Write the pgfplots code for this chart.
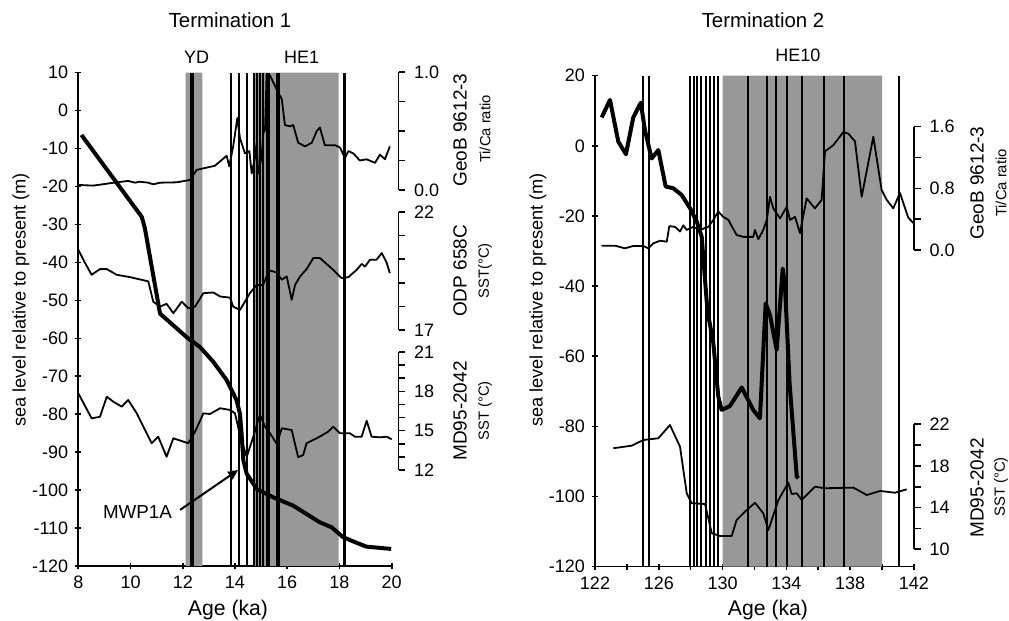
\documentclass[border=0pt]{standalone}
\usepackage{fontspec}
\setmainfont{Liberation Sans}
\usepackage{pgfplots}
\pgfplotsset{compat=1.18}
\usetikzlibrary{arrows.meta}
\definecolor{bandgray}{RGB}{152,152,152}

\pgfplotsset{
  base/.style={scale only axis, anchor=south west, clip=false,
    /pgf/number format/assume math mode=true,
    tick label style={font=\fontsize{9}{10}\selectfont},
    axis line style={line width=0.8pt,-},
    tick style={line width=0.8pt,black},
  },
  sec/.style={base, axis x line=none, axis y line*=right, tick align=outside,
    major tick length=3.3pt, yticklabel style={xshift=1pt}},
  thin/.style={black, line width=0.9pt, line join=round},
  thick/.style={black, line width=2pt, line join=round},
  vline/.style={black, line width=1.1pt},
  band/.style={fill=bandgray, draw=none},
}

\begin{document}
\begin{tikzpicture}
\path[use as bounding box] (0,0) rectangle (504.5pt,310.5pt);

% ================= LEFT PANEL: Termination 1 =================
\begin{axis}[base, at={(39.15pt,27.5pt)}, width=156.7pt, height=246.65pt,
  xmin=8, xmax=20, ymin=-120, ymax=10,
  axis x line*=bottom, axis y line*=left, tick align=center, major tick length=3pt,
  xtick={8,10,...,20}, ytick={-120,-110,...,10}]
  \addplot[band] coordinates {(12.11,-120) (12.75,-120) (12.75,10) (12.11,10)} \closedcycle;
  \addplot[band] coordinates {(14.70,-120) (17.97,-120) (17.97,10) (14.70,10)} \closedcycle;
  \pgfplotsinvokeforeach{12.31,12.39,13.86,14.16,14.45,14.73,14.85,14.96,15.08,15.21,15.31,15.60,15.67,18.19}{
    \addplot[vline] coordinates {(#1,-120) (#1,10)};
  }
  % sea level
  \addplot[thick] coordinates {
    (8.12,-6.4) (10.43,-28) (10.55,-31) (11.13,-53.5) (11.64,-56.6) (12.15,-59.7)
    (12.66,-62.3) (13.17,-66.2) (13.68,-71) (14.06,-76.3) (14.19,-79.9) (14.25,-85)
    (14.32,-92.2) (14.45,-95.7) (14.83,-99.7) (15.46,-101.9) (16.23,-104.1)
    (16.74,-106.3) (17.25,-108.5) (17.70,-109.8) (18.14,-112.4) (18.52,-113.5)
    (19.03,-114.9) (19.98,-115.5)};
  % MWP1A arrow
  \addplot[black, line width=1pt, -{Triangle[length=5pt,width=4.5pt]}] coordinates {(11.9,-105.2) (14.12,-94.7)};
\end{axis}

% GeoB 9612-3 (left)
\begin{axis}[sec, at={(39.15pt,215.5pt)}, width=160.1pt, height=59pt,
  xmin=8, xmax=20.26, ymin=0, ymax=1,
  ytick={0,0.25,0.5,0.75,1}, yticklabels={0.0,,,,1.0}]
  \addplot[thin] coordinates {
    (8.0,0.043) (8.57,0.037) (9.21,0.057) (9.91,0.077) (10.17,0.062) (10.36,0.070)
    (10.68,0.062) (10.87,0.048) (11.13,0.062) (11.77,0.065) (12.28,0.085) (12.53,0.17)
    (12.92,0.19) (13.23,0.205) (13.68,0.29) (13.78,0.20) (13.93,0.37) (14.09,0.61)
    (14.19,0.44) (14.38,0.31) (14.55,0.33) (14.64,0.14) (14.77,0.28) (14.83,0.40)
    (14.89,0.14) (15.02,0.28) (15.08,0.48) (15.15,0.51) (15.21,0.98) (15.34,0.97)
    (15.60,0.85) (15.79,0.77) (15.91,0.55) (16.10,0.54) (16.23,0.55) (16.42,0.40)
    (16.68,0.37) (16.94,0.40) (17.13,0.50) (17.25,0.53) (17.44,0.38) (17.83,0.38)
    (18.02,0.36) (18.21,0.27) (18.34,0.33) (18.53,0.31) (18.78,0.25) (19.04,0.26)
    (19.36,0.23) (19.55,0.30) (19.74,0.26) (19.93,0.37)};
\end{axis}

% ODP 658C (left)
\begin{axis}[sec, at={(39.15pt,145.5pt)}, width=160.1pt, height=59pt,
  xmin=8, xmax=20.26, ymin=17, ymax=22,
  ytick={17,...,22}, yticklabels={17,,,,,22}]
  \addplot[thin] coordinates {
    (8.0,20.40) (8.26,19.84) (8.51,19.34) (8.83,19.58) (9.09,19.58) (9.47,19.34)
    (9.98,19.24) (10.68,19.06) (10.87,18.20) (11.13,17.99) (11.38,18.11) (11.64,17.71)
    (11.96,18.20) (12.21,17.92) (12.47,17.99) (12.79,18.56) (13.17,18.59) (13.43,18.42)
    (13.81,18.37) (13.93,17.99) (14.19,17.85) (14.38,18.20) (14.57,18.56) (14.83,18.91)
    (15.08,18.91) (15.21,19.27) (15.34,19.52) (15.60,19.44) (15.79,19.13) (15.98,19.27)
    (16.17,18.28) (16.30,18.91) (16.49,19.27) (16.74,19.58) (17.00,20.05) (17.25,20.05)
    (17.76,19.55) (18.08,19.20) (18.34,19.24) (18.66,19.55) (18.85,19.80) (18.98,19.69)
    (19.17,19.98) (19.42,19.98) (19.62,20.26) (19.81,19.84) (19.93,19.41)};
\end{axis}

% MD95-2042 (left)
\begin{axis}[sec, at={(39.15pt,75.5pt)}, width=160.1pt, height=59pt,
  xmin=8, xmax=20.26, ymin=12, ymax=21,
  ytick={12,...,21}, yticklabels={12,,,15,,,18,,,21}]
  \addplot[thin] coordinates {
    (8.0,17.85) (8.51,15.94) (8.83,16.06) (9.09,17.59) (9.34,17.21) (9.66,16.83)
    (9.91,17.34) (10.24,16.32) (10.81,14.04) (11.06,14.54) (11.38,13.01) (11.64,14.42)
    (12.21,14.04) (12.47,14.92) (12.79,16.32) (13.04,16.27) (13.43,16.71) (13.81,16.58)
    (14.00,16.32) (14.13,15.18) (14.26,14.16) (14.45,13.01) (14.70,14.54) (14.89,15.81)
    (14.96,16.19) (15.15,15.30) (15.34,14.80) (15.60,13.98) (15.79,15.18) (16.17,15.05)
    (16.42,12.97) (16.61,13.14) (16.74,14.04) (17.13,14.42) (17.57,14.92) (17.76,15.30)
    (18.02,14.80) (18.40,14.80) (18.59,14.54) (18.85,14.54) (19.04,15.76) (19.23,14.54)
    (19.55,14.49) (19.81,14.54) (20.00,14.34)};
\end{axis}

% ================= RIGHT PANEL: Termination 2 =================
\begin{axis}[base, at={(297.5pt,27.15pt)}, width=159.5pt, height=245.5pt,
  xmin=122, xmax=142, ymin=-120, ymax=20,
  axis x line*=bottom, axis y line*=left, tick align=center, major tick length=3pt,
  xtick={122,124,...,142}, xticklabels={122,,126,,130,,134,,138,,142},
  ytick={-120,-100,...,20}]
  \addplot[band] coordinates {(130,-120) (140,-120) (140,20) (130,20)} \closedcycle;
  \pgfplotsinvokeforeach{125.03,125.41,127.96,128.19,128.41,128.67,128.94,129.21,129.48,129.73,131.57,132.76,133.35,134.02,134.96,136.36,137.63,141.06}{
    \addplot[vline] coordinates {(#1,-120) (#1,20)};
  }
  % sea level
  \addplot[thick] coordinates {
    (122.42,8.1) (122.94,13.1) (123.46,1.2) (123.94,-2.4) (124.40,8.1) (124.87,12.3)
    (125.13,4.5) (125.55,-3.6) (125.97,-1.2) (126.43,-11.6) (126.91,-12.1) (127.43,-14)
    (127.96,-17.8) (128.38,-21.6) (128.69,-25.9) (129.05,-47) (129.42,-56.3)
    (129.73,-71.5) (129.94,-75.3) (130.46,-74.2) (131.2,-68.9) (131.92,-75.3)
    (132.34,-77.7) (132.70,-44.9) (132.97,-48.2) (133.39,-58.2) (133.77,-35)
    (133.91,-39.7) (134.2,-67.7) (134.65,-94.3) (134.75,-94.8)};
\end{axis}

% GeoB 9612-3 (right)
\begin{axis}[sec, at={(297.5pt,185.5pt)}, width=159.5pt, height=61.65pt,
  xmin=122, xmax=142, ymin=0, ymax=1.6,
  ytick={0,0.4,0.8,1.2,1.6}, yticklabels={0.0,,0.8,,1.6}]
  \addplot[thin] coordinates {
    (122.42,0.056) (123.25,0.056) (123.88,0.022) (124.40,0.052) (125.03,0.052)
    (125.34,0.022) (125.66,0.087) (126.08,0.12) (126.5,0.108) (126.66,0.31)
    (127.02,0.30) (127.33,0.24) (127.54,0.32) (127.75,0.26) (128.16,0.30) (128.58,0.26)
    (129.1,0.30) (129.42,0.39) (129.73,0.50) (130.04,0.43) (130.36,0.39) (130.88,0.195)
    (131.3,0.17) (131.92,0.17) (132.03,0.26) (132.24,0.14) (132.55,0.26) (132.77,0.39)
    (132.97,0.69) (133.18,0.54) (133.6,0.41) (134.02,0.56) (134.23,0.39) (134.54,0.43)
    (134.85,0.22) (135.27,0.67) (135.79,0.54) (136.21,0.65) (136.42,1.28) (136.94,1.36)
    (137.57,1.53) (137.88,1.51) (138.30,1.41) (138.72,0.69) (139.45,1.47) (139.97,0.78)
    (140.29,0.65) (140.7,0.54) (141.12,0.74) (141.64,0.42) (141.96,0.35)};
\end{axis}

% MD95-2042 (right)
\begin{axis}[sec, at={(297.5pt,35.85pt)}, width=159.5pt, height=62.5pt,
  xmin=122, xmax=142, ymin=10, ymax=22,
  ytick={10,12,...,22}, yticklabels={10,,14,,18,,22}]
  \addplot[thin] coordinates {
    (123.15,19.70) (124.3,19.95) (125.03,20.49) (125.97,20.66) (126.7,21.93)
    (127.33,19.85) (127.75,15.38) (128.06,14.42) (128.9,14.35) (129.32,11.54)
    (129.84,11.28) (130.57,11.28) (130.88,12.81) (131.4,13.61) (132.03,14.47)
    (132.55,13.46) (132.87,11.85) (133.08,12.81) (133.5,14.73) (134.12,16.4)
    (134.33,15.3) (134.65,15.38) (134.96,14.73) (135.79,16.01) (136.42,15.86)
    (138.2,15.92) (139.04,15.21) (139.87,15.6) (140.81,15.43) (141.54,15.76)};
\end{axis}

% ================= TEXT =================
\node[font=\fontsize{10.2}{12}\selectfont] at (115pt,300.5pt) {Termination 1};
\node[font=\fontsize{10.2}{12}\selectfont] at (381.5pt,300.5pt) {Termination 2};
\node[font=\fontsize{9}{10}\selectfont] at (98.35pt,282pt) {YD};
\node[font=\fontsize{9}{10}\selectfont] at (150.85pt,282pt) {HE1};
\node[font=\fontsize{9}{10}\selectfont] at (399pt,283pt) {HE10};
\node[font=\fontsize{10.6}{12}\selectfont] at (114pt,5.5pt) {Age (ka)};
\node[font=\fontsize{10.6}{12}\selectfont] at (384pt,5.5pt) {Age (ka)};
\node[rotate=90,font=\fontsize{9.1}{10}\selectfont] at (10.5pt,160.5pt) {sea level relative to present (m)};
\node[rotate=90,font=\fontsize{9.1}{10}\selectfont] at (269pt,160.5pt) {sea level relative to present (m)};
\node[font=\fontsize{9.4}{10}\selectfont] at (68.75pt,54.65pt) {MWP1A};
% left side labels
\node[rotate=90,font=\fontsize{9.5}{10}\selectfont] at (230pt,245.5pt) {GeoB 9612-3};
\node[rotate=90,font=\fontsize{7.4}{8}\selectfont] at (242.5pt,246pt) {Ti/Ca ratio};
\node[rotate=90,font=\fontsize{9.5}{10}\selectfont] at (230pt,175pt) {ODP 658C};
\node[rotate=90,font=\fontsize{7.4}{8}\selectfont] at (242.5pt,175pt) {SST(°C)};
\node[rotate=90,font=\fontsize{9.5}{10}\selectfont] at (230pt,105pt) {MD95-2042};
\node[rotate=90,font=\fontsize{7.4}{8}\selectfont] at (242.5pt,105pt) {SST (°C)};
% right side labels
\node[rotate=90,font=\fontsize{9.5}{10}\selectfont] at (488.5pt,219pt) {GeoB 9612-3};
\node[rotate=90,font=\fontsize{7.4}{8}\selectfont] at (500.5pt,219pt) {Ti/Ca ratio};
\node[rotate=90,font=\fontsize{9.5}{10}\selectfont] at (488.5pt,66.5pt) {MD95-2042};
\node[rotate=90,font=\fontsize{7.4}{8}\selectfont] at (500.5pt,67pt) {SST (°C)};
\end{tikzpicture}
\end{document}
